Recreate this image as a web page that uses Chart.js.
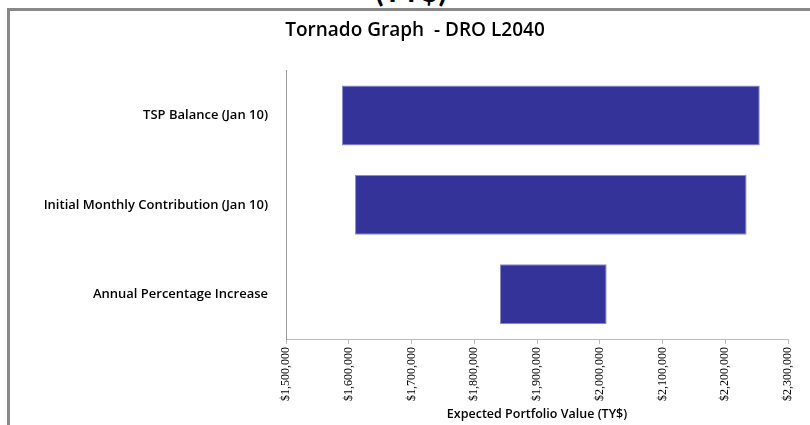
<!DOCTYPE html>
<html>
<head>
<meta charset="utf-8">
<script src="https://cdn.jsdelivr.net/npm/chart.js@4"></script>
<style>
    body { margin: 0; background: #fff; overflow: hidden; }
    #wrap { position: relative; width: 810px; height: 425px; }
    #frame { position: absolute; left: 7px; top: 8px; right: -5px; bottom: -5px;
             border-left: 3px solid #888; border-top: 3px solid #888; }
    #cut { position: absolute; left: 360px; width: 102px; top: -28px; text-align: center;
           font: bold 30px Lato, sans-serif; color: #000; }
    canvas { position: absolute; left: 0; top: 0; }
</style>
</head>
<body>
<div id="wrap">
    <div id="cut">(TY$)</div>
    <div id="frame"></div>
    <canvas id="tornado" width="810" height="425"></canvas>
</div>
<script>
const categories = ['TSP Balance (Jan 10)', 'Initial Monthly Contribution (Jan 10)', 'Annual Percentage Increase'];
const lowValues = [1589000, 1610000, 1841000];
const highValues = [2255000, 2234000, 2011000];
const xMin = 1500000;
const xMax = 2300000;
const xStep = 100000;

const ranges = [];
lowValues.forEach((low, i) => {
    ranges.push([low, highValues[i]]);
});

function money(v) {
    return '$' + v.toLocaleString('en-US');
}

const ctx = document.getElementById('tornado');

new Chart(ctx, {
    type: 'bar',
    data: {
        labels: categories,
        datasets: [{
            data: ranges,
            backgroundColor: '#333399',
            borderColor: '#8c8cc8',
            borderWidth: 1,
            borderSkipped: false,
            barPercentage: 0.67,
            categoryPercentage: 1
        }]
    },
    options: {
        indexAxis: 'y',
        responsive: false,
        animation: false,
        layout: {
            padding: { left: 42, right: 22, top: 0, bottom: 0 }
        },
        plugins: {
            legend: { display: false },
            tooltip: { enabled: false },
            title: {
                display: true,
                text: 'Tornado Graph  - DRO L2040',
                color: '#000',
                font: { family: 'Open Sans', size: 19, weight: '600' },
                padding: { top: 19, bottom: 29 }
            }
        },
        scales: {
            x: {
                min: xMin,
                max: xMax,
                ticks: {
                    stepSize: xStep,
                    minRotation: 90,
                    maxRotation: 90,
                    color: '#000',
                    padding: 3,
                    font: { family: 'Liberation Sans Narrow', size: 12 },
                    callback: v => money(v)
                },
                grid: {
                    drawOnChartArea: false,
                    drawTicks: true,
                    tickLength: 5,
                    color: '#bbb'
                },
                border: { color: '#bbb', width: 1 },
                title: {
                    display: true,
                    text: 'Expected Portfolio Value (TY$)',
                    color: '#000',
                    font: { family: 'Open Sans', size: 12.5, weight: '600' },
                    padding: { top: 2, bottom: 3 }
                },
                afterFit: scale => { scale.height = 86; }
            },
            y: {
                ticks: {
                    color: '#000',
                    padding: 10,
                    font: { family: 'Open Sans', size: 13, weight: '600' }
                },
                grid: { display: false },
                border: { color: '#999', width: 1 },
                afterFit: scale => { scale.width = 244; }
            }
        }
    }
});
</script>
</body>
</html>
